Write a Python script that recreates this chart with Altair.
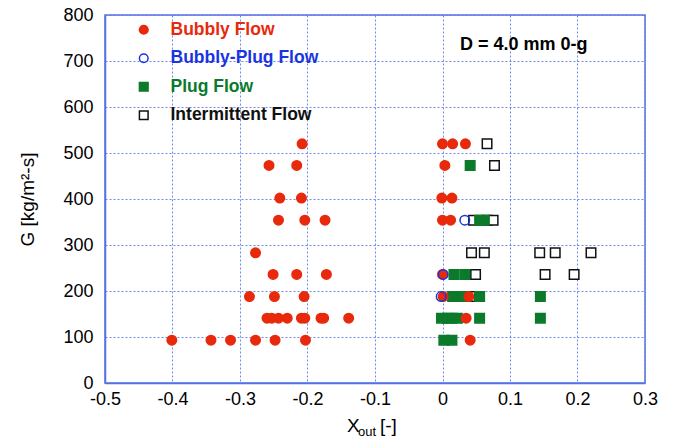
import altair as alt
import pandas as pd

flows = ["Bubbly Flow", "Bubbly-Plug Flow", "Plug Flow", "Intermittent Flow"]
flow_colors = ["#e8290b", "#1a35e0", "#0b7a2b", "#111111"]
flow_fills = ["#e8290b", "transparent", "#0b7a2b", "white"]
flow_shapes = ["circle", "circle", "square", "square"]

bubbly_x = [-0.208, 0.0, 0.015, 0.034,
            -0.257, -0.216, 0.0035,
            -0.241, -0.209, -0.001, 0.014,
            -0.243, -0.204, -0.174, 0.0, 0.012,
            -0.277,
            -0.251, -0.216, -0.172, 0.0,
            -0.286, -0.249, -0.205, 0.001, 0.039,
            -0.260, -0.253, -0.243, -0.230, -0.209, -0.204, -0.180, -0.176, -0.139, 0.035,
            -0.401, -0.343, -0.314, -0.277, -0.248, -0.203, 0.041]
bubbly_g = [520, 520, 520, 520,
            473, 473, 473,
            402, 402, 402, 402,
            354, 354, 354, 354, 354,
            283,
            236, 236, 236, 236,
            188, 188, 188, 188, 188,
            141, 141, 141, 141, 141, 141, 141, 141, 141, 141,
            93, 93, 93, 93, 93, 93, 93]

bplug_x = [0.033, 0.001, -0.002]
bplug_g = [354, 236, 188]

plug_x = [0.041, 0.055, 0.062, 0.017, 0.033, 0.015, 0.030, 0.055, 0.145,
          -0.0015, 0.007, 0.014, 0.022, 0.055, 0.145, 0.002, 0.014]
plug_g = [473, 354, 354, 236, 236, 188, 188, 188, 188,
          141, 141, 141, 141, 141, 141, 93, 93]

inter_x = [0.066, 0.077, 0.046, 0.066, 0.075, 0.043, 0.062, 0.144, 0.167, 0.220,
           0.049, 0.152, 0.195, 0.041]
inter_g = [520, 473, 354, 354, 354, 283, 283, 283, 283, 283,
           236, 236, 236, 188]

x_ticks = [-0.5, -0.4, -0.3, -0.2, -0.1, 0.0, 0.1, 0.2, 0.3]
y_ticks = [0, 100, 200, 300, 400, 500, 600, 700, 800]

rows = []
for order, (xs, gs, f) in enumerate([(inter_x, inter_g, flows[3]), (plug_x, plug_g, flows[2]),
                                     (bubbly_x, bubbly_g, flows[0]), (bplug_x, bplug_g, flows[1])]):
    for x, g in zip(xs, gs):
        rows.append({"x": x, "g": g, "flow": f, "ord": order})
df = pd.DataFrame(rows)

FONT = "Liberation Sans"
GRID = "#5f7be8"
DOMAIN = "#5472e4"

label_color_expr = ("datum.value == 'Bubbly Flow' ? '%s' : datum.value == 'Bubbly-Plug Flow' ? '%s' : "
                    "datum.value == 'Plug Flow' ? '%s' : '%s'") % tuple(flow_colors)

points = alt.Chart(df).mark_point(size=90, strokeWidth=1.5, opacity=1).encode(
    x=alt.X("x:Q", scale=alt.Scale(domain=[-0.5, 0.3], nice=False, zero=False),
            axis=alt.Axis(values=x_ticks, title=None, labelFlush=False,
                          labelExpr="abs(datum.value) < 1e-9 ? '0' : '' + round(datum.value * 10) / 10")),
    y=alt.Y("g:Q", scale=alt.Scale(domain=[0, 800], nice=False),
            axis=alt.Axis(values=y_ticks, title="G [kg/m²-s]", labelFlush=False)),
    shape=alt.Shape("flow:N", scale=alt.Scale(domain=flows, range=flow_shapes),
                    legend=alt.Legend(title=None, orient="none", legendX=30, legendY=6,
                                      labelFontSize=17.5, labelFont=FONT, labelFontWeight="bold",
                                      labelColor={"expr": label_color_expr},
                                      labelOffset=18, rowPadding=9.5, symbolSize=75,
                                      symbolStrokeWidth=1.5)),
    fill=alt.Fill("flow:N", scale=alt.Scale(domain=flows, range=flow_fills), legend=None),
    stroke=alt.Stroke("flow:N", scale=alt.Scale(domain=flows, range=flow_colors), legend=None),
    order=alt.Order("ord:Q"),
)

annot = alt.Chart(pd.DataFrame({"t": ["D = 4.0 mm 0-g"]})).mark_text(
    font=FONT, fontSize=18, fontWeight="bold", align="left", baseline="middle", color="black"
).encode(x=alt.value(355), y=alt.value(30), text="t:N")

xt1 = alt.Chart(pd.DataFrame({"t": ["X"]})).mark_text(
    font=FONT, fontSize=19, align="left", baseline="alphabetic", color="black"
).encode(x=alt.value(242), y=alt.value(417), text="t:N")
xt2 = alt.Chart(pd.DataFrame({"t": ["out"]})).mark_text(
    font=FONT, fontSize=13, align="left", baseline="alphabetic", color="black"
).encode(x=alt.value(253), y=alt.value(421), text="t:N")
xt3 = alt.Chart(pd.DataFrame({"t": ["[-]"]})).mark_text(
    font=FONT, fontSize=19, align="left", baseline="alphabetic", color="black"
).encode(x=alt.value(275), y=alt.value(417), text="t:N")

chart = alt.layer(points, annot, xt1, xt2, xt3).properties(
    width=540, height=368,
    autosize=alt.AutoSizeParams(type="none"),
    padding={"left": 97, "top": 7, "right": 27, "bottom": 54},
).configure_view(stroke=DOMAIN, strokeWidth=1.5).configure_axis(
    labelFont=FONT, labelFontSize=18, labelColor="black",
    titleFont=FONT, titleFontSize=19, titleFontWeight="normal", titleColor="black",
    gridColor=GRID, gridDash=[2, 2], gridWidth=1, gridOpacity=0.9,
    domainColor=DOMAIN, domainWidth=1.5, ticks=False,
).configure_axisX(labelPadding=7).configure_axisY(labelPadding=12, titlePadding=25)

chart.save("out.html", embed_options={"renderer": "svg", "actions": False})
